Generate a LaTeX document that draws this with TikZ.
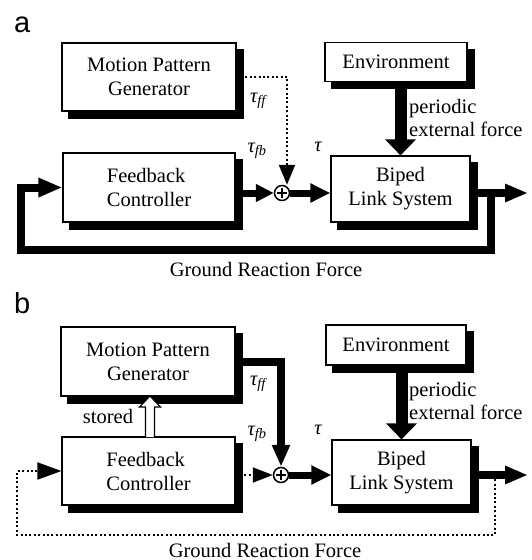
\documentclass[tikz,border=0pt]{standalone}
\usepackage{fontspec}
\setmainfont{Liberation Serif}
\setsansfont{Liberation Sans}
\usetikzlibrary{arrows.meta,backgrounds,calc}
\tikzset{
  box/.style={draw, line width=1.2pt, fill=white,
    font=\fontsize{20.5}{24}\selectfont, align=center, inner sep=0pt},
  lbl/.style={font=\fontsize{20.5}{24}\selectfont, inner sep=0pt},
  panel/.style={font=\sffamily\fontsize{29}{32}\selectfont, inner sep=0pt, anchor=base west},
  sumnode/.style={circle, draw, line width=1.5pt, fill=white, minimum size=15pt, inner sep=0pt},
  thk/.style={line width=7pt, line join=miter},
  dotl/.style={line width=2pt, dash pattern=on 2pt off 2.4pt},
  hollow/.style={line width=1.2pt, fill=white, line join=miter},
}
\newcommand{\plusin}[1]{\draw[line width=1.5pt] ([yshift=5pt]#1.center) -- ([yshift=-5pt]#1.center);
  \draw[line width=1.5pt] ([xshift=-5pt]#1.center) -- ([xshift=5pt]#1.center);}
\newcommand{\shadowof}[1]{\fill[black] ($(#1.north west)+(7,7)$) rectangle ($(#1.south east)+(7,7)$);}
\begin{document}
\begin{tikzpicture}[x=1pt,y=-1pt]
\useasboundingbox (0,0) rectangle (531,560);
% ---------------- panel a ----------------
\node[panel] (labA) at (14,32) {a};
\node[box, minimum width=174pt, minimum height=68pt] (mpgA) at (149,77) {Motion Pattern\\Generator};
\node[box, minimum width=142pt, minimum height=39pt] (envA) at (396,62) {Environment};
\node[box, minimum width=172pt, minimum height=69pt, align=left] (fcA) at (149,187.5) {Feedback\\Controller};
\node[box, minimum width=139pt, minimum height=66pt] (bipA) at (400.5,189) {Biped\\Link System};
\node[sumnode] (sumA) at (282,193) {};
\plusin{sumA}
\coordinate (dA) at (287,77);
\draw[dotl, -{Triangle[length=20pt,width=16pt]}] (mpgA.east) -- (dA) -- (dA |- sumA.north);
\draw[thk, -{Triangle[length=18pt,width=17pt]}] (fcA.east |- sumA) -- (sumA.west);
\draw[thk, -{Triangle[length=20pt,width=18pt]}] (sumA.east) -- (bipA.west |- sumA);
\draw[line width=12pt, -{Triangle[length=16pt,width=30pt]}] (envA.south -| bipA.north) -- (bipA.north);
\coordinate (outA) at (528,193);
\draw[line width=8.5pt, -{Triangle[length=23pt,width=17pt]}] (bipA.east |- sumA) -- (outA);
\coordinate (tapA) at (491,193);
\coordinate (cornA) at (21,250);
\draw[line width=8pt, line join=miter, -{Triangle[length=24pt,width=18pt]}] (tapA) |- (cornA) |- (fcA.west);
\node[lbl] (tffA) at (258,101) {\itshape τ\textsubscript{ff}};
\node[lbl] (tfbA) at (257,151) {\itshape τ\textsubscript{fb}};
\node[lbl] (tA) at (318,147) {\itshape τ};
\node[lbl, anchor=base west] (perA) at (409,113) {periodic};
\node[lbl, anchor=base west] (extA) at (409,136) {external force};
\node[lbl, anchor=base] (grfA) at (266,276) {Ground Reaction Force};
% ---------------- panel b ----------------
\node[panel] (labB) at (14,313) {b};
\node[box, minimum width=174pt, minimum height=69pt] (mpgB) at (148,361.5) {Motion Pattern\\Generator};
\node[box, minimum width=140pt, minimum height=40pt] (envB) at (396,345) {Environment};
\node[box, minimum width=173pt, minimum height=68pt, align=left] (fcB) at (148.5,471) {Feedback\\Controller};
\node[box, minimum width=139pt, minimum height=65pt] (bipB) at (401.5,472.5) {Biped\\Link System};
\node[sumnode] (sumB) at (281,475) {};
\plusin{sumB}
\draw[line width=8pt, line join=miter, -{Triangle[length=22pt,width=17pt]}] (mpgB.east) -| (sumB.north);
\draw[dotl, -{Triangle[length=20pt,width=15pt]}] (fcB.east |- sumB) -- (sumB.west);
\draw[thk, -{Triangle[length=20pt,width=18pt]}] (sumB.east) -- (bipB.west |- sumB);
\draw[line width=12pt, -{Triangle[length=16pt,width=30pt]}] (envB.south -| bipB.north) -- (bipB.north);
\coordinate (outB) at (528,475);
\draw[line width=8.5pt, -{Triangle[length=23pt,width=17pt]}] (bipB.east |- sumB) -- (outB);
\coordinate (tapB) at (495,475);
\coordinate (cornB) at (17,535);
\draw[dotl, -{Triangle[length=24pt,width=17pt]}] (tapB) |- (cornB) |- (fcB.west);
\draw[hollow] (145.5,437) -- (145.5,407) -- (139.5,407) -- (150,396) -- (160.5,407) -- (154.5,407) -- (154.5,437);
\node[lbl, anchor=base] (stB) at (108,423) {stored};
\node[lbl] (tffB) at (258,384) {\itshape τ\textsubscript{ff}};
\node[lbl] (tfbB) at (257,434) {\itshape τ\textsubscript{fb}};
\node[lbl] (tB) at (318,430) {\itshape τ};
\node[lbl, anchor=base west] (perB) at (409,396) {periodic};
\node[lbl, anchor=base west] (extB) at (409,419) {external force};
\node[lbl, anchor=base] (grfB) at (265,557) {Ground Reaction Force};
% ---------------- shadows ----------------
\begin{scope}[on background layer]
\shadowof{mpgA}\shadowof{envA}\shadowof{fcA}\shadowof{bipA}
\shadowof{mpgB}\shadowof{envB}\shadowof{fcB}\shadowof{bipB}
\end{scope}
\end{tikzpicture}
\end{document}
